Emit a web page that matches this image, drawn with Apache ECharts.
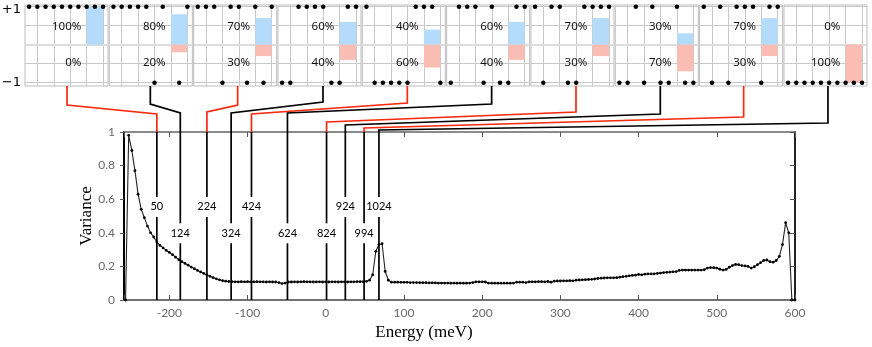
<!DOCTYPE html>
<html>
<head>
<meta charset="utf-8">
<script src="https://cdn.jsdelivr.net/npm/echarts@6/dist/echarts.min.js"></script>
<style>
  html, body { margin: 0; padding: 0; background: #fff; }
  #chart { width: 872px; height: 347px; }
</style>
</head>
<body>
<div id="chart"></div>
<script>
// main curve: variance sampled every 4 meV starting at -256 meV
const energyStart = -256;
const energyStep = 4;
const variance = [
  // -256 .. -116
  0, 0.98, 0.89, 0.77, 0.63, 0.54, 0.49, 0.44, 0.40, 0.375,
  0.345, 0.325, 0.31, 0.295, 0.283, 0.27, 0.255, 0.24, 0.228, 0.218,
  0.207, 0.196, 0.186, 0.176, 0.167, 0.158, 0.149, 0.141, 0.133, 0.126,
  0.12, 0.115, 0.112, 0.110, 0.109, 0.108,
  // -112 .. 56
  0.108, 0.109, 0.108, 0.109, 0.108, 0.108, 0.109, 0.108, 0.108, 0.107,
  0.108, 0.107, 0.107, 0.104, 0.098, 0.101, 0.107, 0.107, 0.108, 0.107,
  0.108, 0.109, 0.108, 0.108, 0.107, 0.108, 0.108, 0.107, 0.108, 0.107,
  0.108, 0.108, 0.107, 0.108, 0.108, 0.107, 0.108, 0.108, 0.109, 0.109,
  0.109, 0.111, 0.118,
  // 60 .. 84 (peak)
  0.15, 0.29, 0.33, 0.335, 0.17, 0.118, 0.106,
  // 88 .. 188
  0.106, 0.106, 0.105, 0.105, 0.105, 0.104, 0.104, 0.104, 0.103, 0.103,
  0.103, 0.102, 0.102, 0.102, 0.101, 0.101, 0.101, 0.101, 0.100, 0.101,
  0.100, 0.101, 0.100, 0.100, 0.101, 0.104,
  // 192 .. 204
  0.108, 0.108, 0.108, 0.107,
  // 208 .. 240
  0.101, 0.100, 0.100, 0.100, 0.100, 0.100, 0.100, 0.100, 0.101,
  // 244 .. 256
  0.106, 0.106, 0.106, 0.104,
  // 260 .. 288
  0.108, 0.108, 0.108, 0.109, 0.109, 0.108, 0.110, 0.106,
  // 292 .. 312
  0.112, 0.113, 0.113, 0.114, 0.114, 0.115,
  // 316 .. 344
  0.114, 0.118, 0.119, 0.120, 0.121, 0.122, 0.123, 0.125,
  // 348 .. 372
  0.128, 0.130, 0.131, 0.132, 0.132, 0.132, 0.133,
  // 376 .. 396
  0.136, 0.139, 0.141, 0.144, 0.146, 0.148,
  // 400 .. 428
  0.152, 0.150, 0.154, 0.155, 0.155, 0.156, 0.158, 0.160,
  // 432 .. 448
  0.163, 0.165, 0.166, 0.168, 0.169,
  // 452 .. 484
  0.176, 0.178, 0.178, 0.178, 0.178, 0.178, 0.178, 0.178, 0.180,
  // 488 .. 496
  0.190, 0.193, 0.192,
  // 500 .. 592
  0.19, 0.183, 0.178, 0.182, 0.195, 0.205, 0.212, 0.21, 0.205, 0.203,
  0.2, 0.19, 0.198, 0.21, 0.222, 0.235, 0.238, 0.228, 0.225, 0.235,
  0.26, 0.33, 0.46, 0.40,
  // 596 .. 600
  0, 0
];

// vertical markers on the energy axis
const markerEnergy = [-216, -186, -152, -121, -95, -49, 1, 25, 49, 68];
const markerLabel = ['50', '124', '224', '324', '424', '624', '824', '924', '994', '1024'];
const markerRow = [0, 1, 0, 1, 0, 1, 1, 0, 1, 0]; // 0 = upper label row, 1 = lower

// small panels: percentage up / down and the spin of each site
const panelUp = [100, 80, 70, 60, 40, 60, 70, 30, 70, 0];
const panelDown = [0, 20, 30, 40, 60, 40, 30, 70, 30, 100];
const panelSpins = [
  [1, 1, 1, 1, 1, 1, 1, 1, 1, 1],
  [1, 1, 1, 1, 1, -1, 1, null, -1, 1],
  [1, 1, 1, -1, 1, 1, -1, 1, -1, 1],
  [-1, -1, 1, 1, 1, 1, -1, -1, 1, 1],
  [1, -1, -1, -1, -1, -1, 1, 1, 1, -1],
  [-1, 1, 1, 1, -1, 1, -1, -1, 1, 1],
  [1, -1, 1, 1, -1, -1, 1, 1, 1, 1],
  [-1, -1, 1, -1, 1, -1, -1, 1, -1, -1],
  [1, -1, 1, -1, 1, 1, 1, -1, 1, 1],
  [-1, -1, -1, -1, -1, -1, -1, -1, -1, -1]
];
const spinTicks = ['+1', '\u22121'];

// layout
const RED = '#f8290c';
const BLUE_BAR = '#b4dcfa';
const RED_BAR = '#f9bdb3';
const panelLeft0 = 25, panelStep = 84.33, panelTop = 5, panelW = 83, panelH = 81;
const panelBottom = panelTop + panelH;
const connectorDx = [42, 41, 44, 45, 45, 45, 45, 45, 44, 44];
const bendTop = [105, 104, 105, 102, 103, 104, 112, 114, 117, 123];
const bendBottom = [114, 113, 112, 113, 114, 113, 122, 125, 128, 130];
const rowLevel = [0.554, 0.397];

const chart = echarts.init(document.getElementById('chart'));

const grids = [{ left: 124, top: 132, width: 671, height: 168 }];
const xAxes = [
  {
    type: 'value', gridIndex: 0, min: -258, max: 600, splitNumber: 8,
    axisLine: { show: true, onZero: false, lineStyle: { color: '#444', width: 1.5 } },
    axisTick: { inside: true, length: 5, lineStyle: { color: '#555' } },
    axisLabel: {
      color: '#6a6a6a', fontSize: 12, fontFamily: 'Lato', margin: 7,
      formatter: v => (v % 100 === 0 ? String(v) : '')
    },
    splitLine: { show: false },
    name: 'Energy (meV)', nameLocation: 'middle', nameGap: 24, nameMoveOverlap: false,
    nameTextStyle: { fontFamily: 'Liberation Serif', fontSize: 17, color: '#000', padding: [0, 71, 0, 0] }
  },
  {
    type: 'value', gridIndex: 0, position: 'top', min: -258, max: 600, splitNumber: 8,
    axisLine: { show: true, onZero: false, lineStyle: { color: '#666', width: 1.5 } },
    axisTick: { inside: true, length: 5, lineStyle: { color: '#555' } },
    axisLabel: { show: false },
    splitLine: { show: false }
  }
];
const yAxes = [
  {
    type: 'value', gridIndex: 0, min: 0, max: 1, interval: 0.2,
    axisLine: { show: true, onZero: false, lineStyle: { color: '#000', width: 2 } },
    axisTick: { show: true, length: 4, lineStyle: { color: '#555' } },
    axisLabel: { color: '#6a6a6a', fontSize: 12, fontFamily: 'Lato', margin: 9 },
    splitLine: { show: false },
    name: 'Variance', nameLocation: 'middle', nameGap: 29, nameMoveOverlap: false,
    nameTextStyle: { fontFamily: 'Liberation Serif', fontSize: 17, color: '#000' }
  },
  {
    type: 'value', gridIndex: 0, position: 'right', min: 0, max: 1, interval: 0.2,
    axisLine: { show: true, onZero: false, lineStyle: { color: '#222', width: 2 } },
    axisTick: { show: true, inside: true, length: 5, lineStyle: { color: '#555' } },
    axisLabel: { show: false },
    splitLine: { show: false }
  }
];

const series = [
  {
    type: 'line', xAxisIndex: 0, yAxisIndex: 0,
    data: variance.map((v, i) => [energyStart + i * energyStep, v]),
    symbol: 'circle', symbolSize: 2.8, showAllSymbol: true,
    itemStyle: { color: '#000', borderWidth: 0 },
    lineStyle: { color: '#222', width: 1.1 },
    z: 3
  },
  {
    type: 'custom', xAxisIndex: 0, yAxisIndex: 0, clip: false, z: 4,
    data: markerEnergy.map((e, i) => [e, markerRow[i], i]),
    renderItem(params, api) {
      const i = api.value(2);
      const top = api.coord([api.value(0), 1]);
      const bottom = api.coord([api.value(0), 0]);
      const ly = api.coord([api.value(0), rowLevel[api.value(1)]])[1];
      const px = panelLeft0 + i * panelStep + connectorDx[i];
      const x = top[0];
      return {
        type: 'group',
        children: [
          { type: 'line', shape: { x1: x, y1: top[1], x2: x, y2: ly - 10 }, style: { stroke: '#000', lineWidth: 1.7 } },
          { type: 'line', shape: { x1: x, y1: ly + 10, x2: x, y2: bottom[1] }, style: { stroke: '#000', lineWidth: 1.7 } },
          {
            type: 'text', x: x, y: ly,
            style: { text: markerLabel[i], align: 'center', verticalAlign: 'middle', fontSize: 11, fontFamily: 'Lato', fill: '#000' }
          },
          {
            type: 'polyline',
            shape: { points: [[px, panelBottom], [px, bendTop[i]], [x, bendBottom[i]], [x, top[1]]] },
            style: { stroke: i % 2 === 0 ? RED : '#000', lineWidth: 1.7, fill: null }
          }
        ]
      };
    }
  }
];

panelUp.forEach((up, i) => {
  const gi = i + 1;
  grids.push({
    left: panelLeft0 + i * panelStep, top: panelTop, width: panelW, height: panelH,
    show: true, borderColor: '#bdbdbd', borderWidth: 1, backgroundColor: 'transparent'
  });
  xAxes.push({ type: 'value', gridIndex: gi, min: 0.5, max: 10.6, show: false });
  yAxes.push({ type: 'value', gridIndex: gi, min: -1.087, max: 1.045, show: false });
  const axisIdx = i + 2;
  // grid lines
  series.push({
    type: 'line', xAxisIndex: axisIdx, yAxisIndex: axisIdx, data: [], z: 1,
    markLine: {
      silent: true, symbol: 'none', animation: false, z: 1,
      label: { show: false },
      lineStyle: { color: '#c9c9c9', width: 1, type: 'solid' },
      data: [
        { xAxis: 2 }, { xAxis: 4 }, { xAxis: 6 }, { xAxis: 8 }, { xAxis: 10 },
        { yAxis: 1 }, { yAxis: 0.5 }, { yAxis: 0, lineStyle: { color: '#dcdcdc', width: 2 } },
        { yAxis: -0.5 }, { yAxis: -1 }
      ]
    }
  });
  // up / down bars and percentages
  series.push({
    type: 'custom', xAxisIndex: axisIdx, yAxisIndex: axisIdx, z: 2, clip: false,
    data: [[up, panelDown[i]]],
    renderItem(params, api) {
      const a = api.coord([8, api.value(0) / 100]);
      const b = api.coord([10, 0]);
      const c = api.coord([10, -api.value(1) / 100]);
      const t1 = api.coord([7.35, 0.47]);
      const t2 = api.coord([7.35, -0.47]);
      const txt = { align: 'right', verticalAlign: 'middle', fontSize: 11.5, fontFamily: 'Noto Sans', fill: '#111' };
      const children = [
        { type: 'rect', shape: { x: a[0], y: a[1], width: b[0] - a[0], height: b[1] - a[1] }, style: { fill: BLUE_BAR } },
        { type: 'rect', shape: { x: a[0], y: b[1], width: b[0] - a[0], height: c[1] - b[1] }, style: { fill: RED_BAR } },
        { type: 'text', x: t1[0], y: t1[1], style: Object.assign({ text: panelUp[i] + '%' }, txt) },
        { type: 'text', x: t2[0], y: t2[1], style: Object.assign({ text: panelDown[i] + '%' }, txt) }
      ];
      if (i === 0) {
        const p = api.coord([0.5, 1]);
        const m = api.coord([0.5, -1]);
        const tk = { align: 'right', verticalAlign: 'middle', fontSize: 13, fontFamily: 'DejaVu Sans', fill: '#000' };
        children.push({ type: 'text', x: p[0] - 4, y: p[1] + 3, style: Object.assign({ text: spinTicks[0] }, tk) });
        children.push({ type: 'text', x: m[0] - 4, y: m[1], style: Object.assign({ text: spinTicks[1] }, tk) });
      }
      return { type: 'group', children };
    }
  });
  // spins
  series.push({
    type: 'scatter', xAxisIndex: axisIdx, yAxisIndex: axisIdx, z: 3,
    symbol: 'circle', symbolSize: 4.5,
    itemStyle: { color: '#000', opacity: 1, borderWidth: 0 },
    data: panelSpins[i].map((s, k) => (s === null ? null : [k + 1, s])).filter(d => d !== null)
  });
});

chart.setOption({
  animation: false,
  grid: grids,
  xAxis: xAxes,
  yAxis: yAxes,
  series: series
});
</script>
</body>
</html>
